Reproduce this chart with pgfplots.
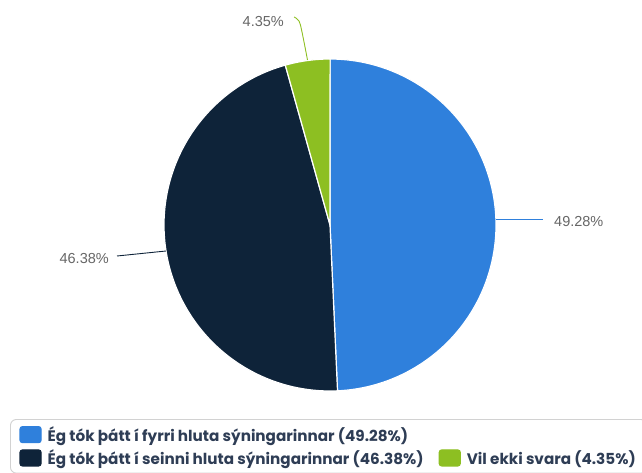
\documentclass[border=0pt]{standalone}
\usepackage{pgfplots}
\pgfplotsset{compat=1.18}
\usepackage{fontspec}
\setmainfont{Poppins}
\newfontfamily\labelfont{Liberation Sans}
\definecolor{cblue}{HTML}{2F80DC}
\definecolor{cnavy}{HTML}{0E2339}
\definecolor{cgreen}{HTML}{8DBF22}
\definecolor{ctext}{HTML}{2E3D55}
\definecolor{clab}{HTML}{666666}
\def\va{49.28}\def\vb{46.38}\def\vc{4.35}
\pgfmathsetmacro\aA{90-\va*3.6}
\pgfmathsetmacro\aB{\aA-\vb*3.6}
\pgfmathsetmacro\aC{\aB-\vc*3.6}
\begin{document}
\begin{tikzpicture}
\begin{axis}[scale only axis, width=642pt, height=472pt,
  xmin=0, xmax=642, ymin=0, ymax=472, hide axis, clip=false,
  legend columns=2,
  legend cell align=left,
  legend style={at={(axis cs:10,53)}, anchor=north west, draw=gray!35, line width=0.9pt,
    rounded corners=6pt, text=ctext, font=\bfseries\fontsize{15.2}{17}\selectfont,
    inner xsep=9pt, inner ysep=5pt, row sep=3pt,
    /tikz/every odd column/.append style={column sep=4pt},
    /tikz/every even column/.append style={column sep=13pt}},
]
\addplot[draw=white, line width=1.2pt, fill=cblue, domain=\aA:90, samples=120, variable=\t,
  legend image code/.code={\fill[cblue, rounded corners=2.5pt] (0pt,-8pt) rectangle (21pt,8pt);}]
  ({330+166*cos(\t)},{247+166*sin(\t)}) -- (axis cs:330,247) -- cycle;
\addlegendentry{Ég tók þátt í fyrri hluta sýningarinnar (49.28\%)}
\addlegendimage{empty legend}
\addlegendentry{}
\addplot[draw=white, line width=1.2pt, fill=cnavy, domain=\aB:\aA, samples=120, variable=\t,
  legend image code/.code={\fill[cnavy, rounded corners=2.5pt] (0pt,-8pt) rectangle (21pt,8pt);}]
  ({330+166*cos(\t)},{247+166*sin(\t)}) -- (axis cs:330,247) -- cycle;
\addlegendentry{Ég tók þátt í seinni hluta sýningarinnar (46.38\%)}
\addplot[draw=white, line width=1.2pt, fill=cgreen, domain=\aC:\aB, samples=30, variable=\t,
  legend image code/.code={\fill[cgreen, rounded corners=2.5pt] (0pt,-8pt) rectangle (21pt,8pt);}]
  ({330+166*cos(\t)},{247+166*sin(\t)}) -- (axis cs:330,247) -- cycle;
\addlegendentry{Vil ekki svara (4.35\%)\hspace{20pt}}
% leader lines
\addplot[forget plot, cblue, line width=0.9pt] coordinates {(496,252.5) (543,252.5)};
\addplot[forget plot, cnavy, line width=0.9pt] coordinates {(117,216) (166,221)};
\addplot[forget plot, cgreen, line width=0.9pt, smooth, tension=0.6] coordinates {(294,455) (299,451) (302,440) (307.5,412)};
\node[anchor=west, text=clab, font=\labelfont\fontsize{14.5}{16}\selectfont, inner sep=0pt] at (axis cs:554,250) {49.28\%};
\node[anchor=east, text=clab, font=\labelfont\fontsize{14.5}{16}\selectfont, inner sep=0pt] at (axis cs:109,213) {46.38\%};
\node[anchor=east, text=clab, font=\labelfont\fontsize{14.5}{16}\selectfont, inner sep=0pt] at (axis cs:284,450.5) {4.35\%};
\end{axis}
\pgfresetboundingbox
\useasboundingbox (0,0) rectangle (642pt,472pt);
\end{tikzpicture}
\end{document}
